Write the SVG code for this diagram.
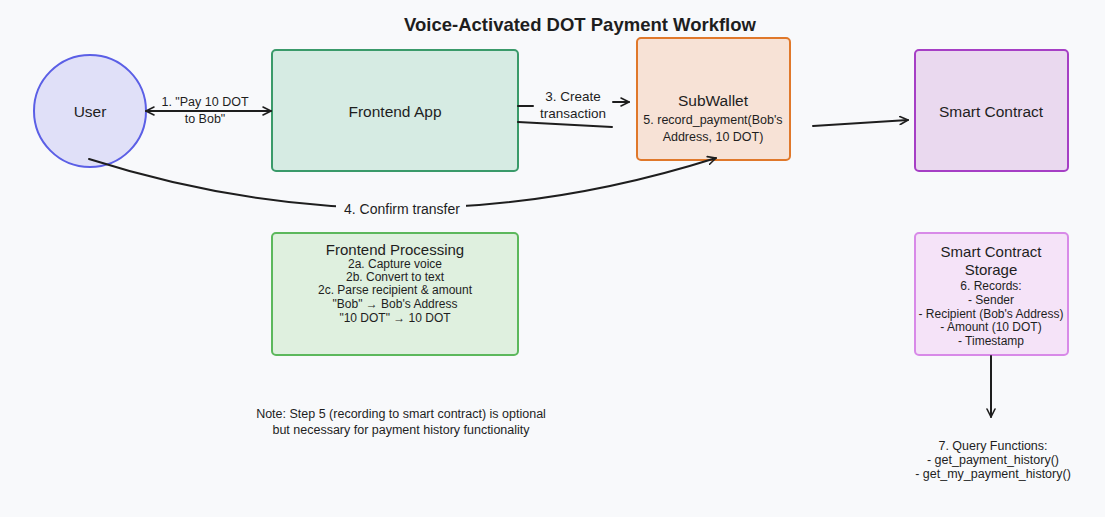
<svg xmlns="http://www.w3.org/2000/svg" width="1105" height="517" viewBox="0 0 1105 517">
<defs>
<marker id="arr" viewBox="0 0 10 10" refX="9" refY="5" markerWidth="10" markerHeight="10" markerUnits="userSpaceOnUse" orient="auto-start-reverse">
<path d="M1,1 L9,5 L1,9" fill="none" stroke="#1e1e1e" stroke-width="1.6" stroke-linecap="round" stroke-linejoin="round"/>
</marker>
<style>
text{font-family:"Liberation Sans",Arial,sans-serif;fill:#1e1e1e;text-anchor:middle;dominant-baseline:central}
.t{font-size:15.5px}
.h{font-size:15px}
.s{font-size:12px}
.c{font-size:12.5px}
.e{fill:none;stroke:#1e1e1e;stroke-width:2;stroke-linecap:round}
</style>
</defs>
<rect width="1105" height="517" fill="#f8f9fb"/>
<text x="580" y="24" style="font-size:18.5px;font-weight:bold">Voice-Activated DOT Payment Workflow</text>

<g id="user">
<circle cx="90" cy="111" r="56" fill="#e0e0f8" stroke="#5b5fe6" stroke-width="2"/>
<text class="t" x="90" y="111">User</text>
</g>
<g id="frontend-app">
<rect x="272" y="50" width="246" height="121" rx="4" fill="#d6ebe3" stroke="#3a9a6a" stroke-width="2"/>
<text class="t" x="395" y="111">Frontend App</text>
</g>
<g id="subwallet">
<rect x="637" y="38" width="153" height="122" rx="4" fill="#f7e2d6" stroke="#e0782a" stroke-width="2"/>
<text class="t" x="713" y="100">SubWallet</text>
</g>
<g id="smart-contract">
<rect x="915" y="50" width="153" height="121" rx="4" fill="#ead9ef" stroke="#a63fc5" stroke-width="2"/>
<text class="t" x="991" y="111">Smart Contract</text>
</g>
<g id="frontend-processing">
<rect x="272" y="233" width="246" height="122" rx="4" fill="#dff0df" stroke="#5cb85c" stroke-width="2"/>
<text class="h" x="395" y="249">Frontend Processing</text>
<text class="s" x="395" y="264">2a. Capture voice</text>
<text class="s" x="395" y="277">2b. Convert to text</text>
<text class="s" x="395" y="290">2c. Parse recipient &amp; amount</text>
<text class="s" x="395" y="304">"Bob" → Bob's Address</text>
<text class="s" x="395" y="318">"10 DOT" → 10 DOT</text>
</g>
<g id="smart-contract-storage">
<rect x="915" y="233" width="153" height="122" rx="4" fill="#f5e3f8" stroke="#d88ae8" stroke-width="2"/>
<text class="h" x="991" y="251">Smart Contract</text>
<text class="h" x="991" y="269">Storage</text>
<text class="s" x="991" y="286">6. Records:</text>
<text class="s" x="991" y="300">- Sender</text>
<text class="s" x="991" y="314">- Recipient (Bob's Address)</text>
<text class="s" x="991" y="327">- Amount (10 DOT)</text>
<text class="s" x="991" y="341">- Timestamp</text>
</g>

<g id="connectors">
<path class="e" d="M146 111 L271 111" marker-start="url(#arr)" marker-end="url(#arr)"/>
<path class="e" d="M518 106 L533 106"/>
<path class="e" d="M613 102 L629 102" marker-end="url(#arr)"/>
<path class="e" d="M518 122 L612 127"/>
<path class="e" d="M813 126 L908 120" marker-end="url(#arr)"/>
<path class="e" d="M89 159 Q400 258 716 158" marker-end="url(#arr)"/>
<path class="e" d="M991 356 L991 417" marker-end="url(#arr)"/>
</g>

<g id="labels">
<text class="c" x="205" y="102">1. "Pay 10 DOT</text>
<text class="c" x="205" y="119">to Bob"</text>
<text class="c" x="573" y="96" style="font-size:13.5px">3. Create</text>
<text class="c" x="573" y="113" style="font-size:13.5px">transaction</text>
<text class="c" x="713" y="120">5. record_payment(Bob's</text>
<text class="c" x="713" y="137">Address, 10 DOT)</text>
<rect x="336" y="200" width="130" height="18" fill="#f8f9fb"/>
<text class="c" x="402" y="209" style="font-size:14px">4. Confirm transfer</text>
</g>

<g id="query-functions">
<text class="c" x="993" y="446">7. Query Functions:</text>
<text class="c" x="993" y="460">- get_payment_history()</text>
<text class="c" x="993" y="474">- get_my_payment_history()</text>
</g>
<g id="note">
<text class="c" x="401" y="414">Note: Step 5 (recording to smart contract) is optional</text>
<text class="c" x="401" y="430">but necessary for payment history functionality</text>
</g>
</svg>
